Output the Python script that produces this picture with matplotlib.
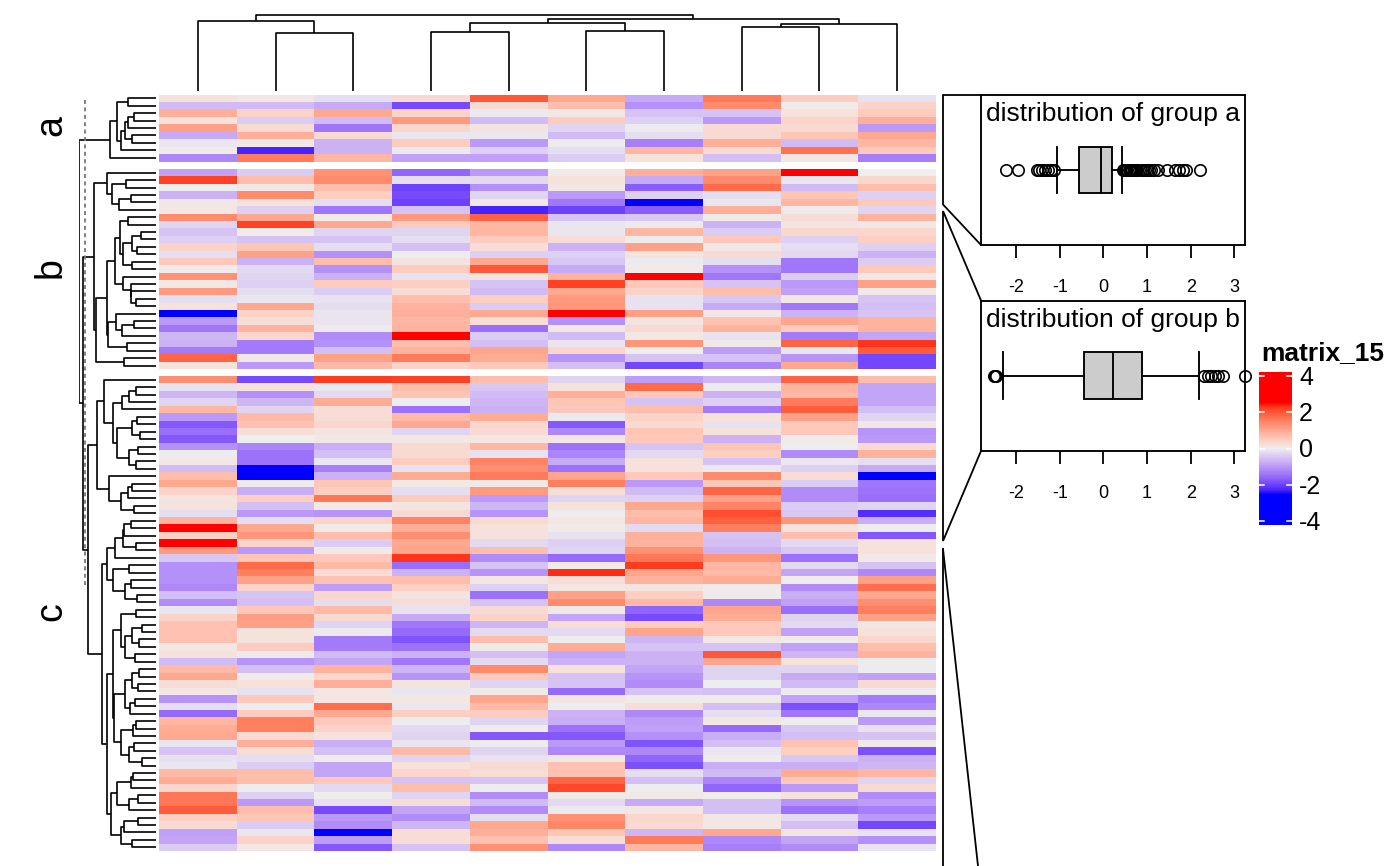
import numpy as np
import matplotlib
matplotlib.use("Agg")
import matplotlib.pyplot as plt
from matplotlib.colors import ListedColormap

plt.rcParams["font.family"] = ["Liberation Sans", "DejaVu Sans"]

W, H = 1400, 866

group_a = [
    [0.2, 0.1, -0.2, 0.3, 2.0, 1.0, -0.8, 1.6, 0.5, -0.15],
    [-0.6, -0.6, -0.8, -1.9, 0.3, 0.7, -1.1, 1.4, 0.05, 0.4],
    [0.9, 0.4, 1.0, 0.4, -0.05, 0.1, -0.5, -0.5, 0.2, 0.5],
    [0.2, -0.4, -0.6, 1.2, -0.6, 0.5, -0.35, -1.0, 0.4, 0.9],
    [1.1, 0.3, -1.4, 0.35, 0.15, -0.3, -0.05, 0.3, 0.3, -1.0],
    [-0.8, 0.9, 0.3, -0.1, -0.08, -0.6, -0.2, 0.3, 0.6, 1.0],
    [-0.1, 0.1, -0.7, 0.5, -1.0, -0.03, -1.3, 0.9, -0.6, 0.8],
    [0.05, -2.3, -0.7, -0.05, -0.35, -0.2, 0.8, 0.3, 1.7, 0.55],
    [-1.2, 1.6, 0.8, -0.9, -0.9, -0.4, 0.2, -0.55, 0.1, -1.3],
]

group_b = [
    [-0.9, -0.4, 1.3, -1.6, -1.0, 0.05, 0.9, 1.1, 2.5, 0.0],
    [2.2, 0.7, 1.4, -0.2, -0.25, 0.2, -0.8, 1.4, -0.1, 0.35],
    [0.0, 0.1, 0.7, -2.0, -1.1, 0.1, -1.7, 1.8, -0.6, 0.7],
    [-0.7, 1.4, 0.45, -1.9, -0.3, -1.0, -0.35, -0.2, 0.6, -0.35],
    [0.1, 0.2, -0.2, -2.0, 0.1, -1.4, -2.5, -0.1, 0.8, 0.55],
    [0.1, -0.35, -1.4, -0.5, -2.3, -2.0, -1.7, 0.9, 0.05, -0.3],
    [1.4, 1.0, 0.05, 1.2, 1.9, -0.5, -0.45, 0.05, 0.25, 0.85],
    [-0.3, 2.2, 1.0, 0.5, 0.8, -0.1, -0.05, -0.7, 0.15, 0.1],
    [-0.5, 0.05, -0.3, -0.3, 0.8, -0.1, 0.8, -0.4, 0.35, 0.35],
    [-0.35, -0.5, -0.5, -0.2, 0.5, 0.25, -0.03, 0.55, -0.35, 0.45],
    [0.4, 0.6, -0.2, -0.55, 0.25, -0.7, 1.1, 0.1, -0.2, -0.35],
    [-0.2, 1.1, -1.1, -0.02, -0.35, -0.35, 0.15, 0.3, -0.25, -0.7],
    [0.55, -0.7, 0.7, 0.15, 1.0, -0.45, -0.05, -0.2, -1.4, -0.4],
    [0.05, -0.25, -1.1, 0.5, 2.0, -0.8, 0.05, -1.1, -1.4, 0.55],
    [1.3, -0.3, -0.7, -0.15, 0.15, 0.85, 2.5, -1.4, -0.4, 0.1],
    [0.1, -0.35, 0.5, 0.45, -0.5, 2.2, 0.55, -0.5, -1.0, 1.1],
    [1.2, -0.2, -0.4, 0.25, -0.6, 1.0, 0.4, 0.7, -0.9, 0.08],
    [-0.2, -0.1, -0.15, 0.7, 0.45, 1.2, -0.15, -0.45, 0.1, -0.5],
    [0.2, 1.0, -0.2, 0.85, -0.4, 1.25, -0.15, -0.8, -1.4, -0.55],
    [-2.5, 0.4, -0.12, 0.9, 1.0, 2.5, 1.1, 0.1, -0.7, -0.5],
    [-1.0, 0.25, -0.12, 0.8, 0.25, -1.1, 0.15, 0.65, 1.05, 0.85],
    [-1.4, 0.85, -0.03, 0.85, -1.5, 0.1, 0.3, 0.85, 0.5, 0.85],
    [-0.65, 0.35, -1.15, 2.5, -0.4, -0.6, 0.1, -0.15, -1.35, -0.85],
    [-0.7, -1.35, -1.1, 0.7, -0.55, -0.12, 1.25, 0.07, 1.85, 2.3],
    [-1.35, -1.35, -0.55, 0.85, 1.05, 0.35, 0.02, -0.95, -0.1, 1.95],
    [1.85, 0.1, 1.1, 1.6, 0.95, -1.05, -0.5, -0.5, -1.05, -1.95],
    [0.2, -1.0, 0.75, 0.4, 0.55, -0.55, -1.95, -1.25, 1.0, -1.95],
]

group_c = [
    [1.35, -1.9, 2.25, 2.2, 0.7, -0.3, -0.95, -0.65, 1.85, 0.7],
    [-0.15, 0.2, -0.08, 0.7, -0.45, 0.2, 1.8, -0.05, 0.85, -0.85],
    [-0.65, -1.1, -0.25, 0.6, -0.6, 0.9, 0.55, -0.7, 0.75, -0.85],
    [-0.3, -0.65, 0.95, -0.02, -0.65, 0.6, -0.5, -0.35, 1.6, -0.85],
    [0.8, -0.3, 0.25, -1.45, -0.7, 0.55, 0.7, -1.35, 1.95, -0.55],
    [-1.0, 0.75, 0.25, 0.75, 0.95, -0.05, 0.4, 0.2, 1.1, -0.3],
    [-1.75, 0.65, 0.35, 1.0, 0.35, -1.75, 0.3, -0.15, 0.55, 0.12],
    [-1.5, 0.25, 0.15, -0.3, 0.3, -1.2, 0.6, 0.2, 0.55, -1.05],
    [-1.75, 0.0, 0.1, 0.12, 0.12, 0.12, 0.55, -0.7, 0.05, -1.0],
    [-1.1, -1.25, -0.75, 0.3, 0.8, -1.45, -0.5, 0.6, -0.02, 0.3],
    [-0.04, -1.45, -0.55, 0.3, -0.15, -1.25, -0.25, 0.45, -1.15, 0.85],
    [0.1, -1.45, -0.1, 0.5, 1.5, -0.8, 0.2, -0.5, -0.08, -0.2],
    [-0.6, -2.5, -1.3, -0.15, 1.35, -1.45, 0.2, -0.07, -0.35, -0.8],
    [0.7, -2.5, -0.7, 0.95, 1.6, 1.05, 0.55, 1.4, 0.25, -2.5],
    [1.0, -0.03, 0.6, 0.08, 0.08, 1.55, -1.0, 0.6, -0.4, -1.4],
    [0.4, -0.75, 0.45, -0.2, 1.2, 0.25, -0.6, 1.85, -1.15, -1.45],
    [0.15, 0.45, 1.65, 0.5, -1.0, -0.3, -0.35, 1.1, -1.15, -1.5],
    [0.18, -0.55, 0.08, 0.15, -0.65, 0.2, 1.0, 1.5, -0.4, -0.3],
    [-0.2, -1.0, -1.05, 0.3, -1.05, 0.02, 0.7, 2.1, -0.45, -2.2],
    [0.85, -0.2, 0.4, 1.5, 0.3, 0.12, 0.8, 1.9, 1.25, -0.75],
    [2.5, 1.0, 0.05, 0.9, 0.2, 0.05, -0.25, 1.55, 0.2, 0.01],
    [0.45, 1.25, 0.7, 1.35, 0.18, -0.15, 0.88, -0.5, 0.68, -1.75],
    [2.5, 0.4, -0.4, 1.0, -0.25, -0.35, 0.85, -0.55, -0.25, 0.2],
    [1.2, -1.0, 0.08, 1.05, 0.7, -0.3, 1.3, -0.7, -0.45, 0.2],
    [-0.45, 0.6, 0.55, 2.3, -1.15, -1.55, 1.65, 1.25, -1.45, 0.08],
    [-1.1, 1.8, 0.75, -1.5, -0.5, 0.05, 2.25, 0.8, -0.25, -0.5],
    [-1.1, 1.55, 0.25, -0.7, -1.05, 2.35, 1.05, 0.75, -0.85, -1.2],
    [-1.1, 1.1, 0.65, 0.7, 0.12, 0.25, 0.85, 0.95, 0.03, 1.1],
    [-1.2, 0.4, -0.95, 0.45, -0.35, 0.12, 0.15, 0.04, -1.15, 1.75],
    [-0.55, -0.5, 0.35, 0.15, -1.45, 1.1, 0.45, 0.04, -0.75, 1.0],
    [-1.15, -0.55, -0.2, 0.25, -0.5, 1.4, 0.75, -1.2, -0.9, 1.35],
    [-0.1, 0.55, 0.75, -0.15, 0.3, 0.08, -1.6, 1.05, -1.5, 1.55],
    [0.4, 1.15, 0.3, -0.8, 0.4, -0.85, -1.9, 0.95, -0.3, 1.1],
    [0.65, 1.1, -0.3, -1.4, -0.65, 0.25, 0.5, 0.55, -0.25, 0.1],
    [0.65, 0.18, -0.05, -1.55, -0.25, -0.25, 1.05, 0.55, -0.9, 0.2],
    [0.65, 0.18, -1.35, -1.8, 0.7, -0.02, -0.65, 0.12, 0.03, 0.35],
    [0.12, 0.5, -1.35, -1.45, 0.08, 0.95, -0.5, -0.5, -0.9, 0.7],
    [0.2, -0.05, -0.6, -0.7, -0.55, -0.85, -0.7, 2.0, -0.65, 0.85],
    [-0.6, -1.05, -0.85, -1.4, -0.25, -0.7, -0.7, 1.05, 0.2, -0.03],
    [0.75, -0.55, 0.85, -0.65, 1.4, 0.2, -0.85, -0.3, -0.3, -0.03],
    [1.0, 0.05, 0.35, -1.05, 0.55, -0.5, -1.05, -0.3, -0.8, -0.9],
    [0.25, 0.2, 0.9, 0.15, -0.3, -0.5, -1.15, -0.02, -0.6, 0.3],
    [0.12, -0.15, 0.12, -0.1, 0.05, -1.55, -0.5, -0.55, -0.05, -0.03],
    [-1.05, 0.55, 0.12, 0.12, 1.05, 0.15, 0.04, 0.05, -0.9, -1.35],
    [-0.2, -0.02, 1.75, -0.08, 0.75, -0.02, 0.25, -0.55, -1.85, -1.2],
    [-1.55, 0.5, 1.0, 0.45, 0.5, -0.7, -1.2, -0.2, -1.4, -0.1],
    [0.8, 1.55, 0.55, -0.02, -0.3, -0.75, -0.95, 0.12, 0.02, -1.0],
    [0.95, 1.55, 0.4, -0.25, 0.03, -1.45, -0.9, -1.55, -0.45, -0.15],
    [1.0, 0.3, 0.2, -0.3, -1.75, -1.75, -1.1, -0.75, -0.55, -0.5],
    [-0.12, 0.9, -0.75, -0.12, -0.02, -1.0, -1.8, -0.55, 0.65, 0.07],
    [-0.5, 0.25, -0.55, 0.75, -0.3, -1.2, -1.2, -0.1, 0.45, -1.85],
    [-0.15, -0.2, 0.03, -0.3, -0.15, 0.1, -1.6, 0.02, -0.45, -0.7],
    [-0.1, -0.4, -0.85, 0.2, 0.3, 0.65, -1.85, -0.75, -0.75, -0.65],
    [0.75, 0.7, -0.85, 0.35, 0.25, 0.65, -0.2, -0.6, 0.95, 0.8],
    [0.95, 0.7, 0.55, -0.5, -0.5, 1.85, -0.55, -1.25, 0.55, -0.3],
    [0.35, 0.01, -0.25, 0.7, -0.02, 2.15, -0.02, -1.6, -1.0, 0.3],
    [1.65, -0.35, 0.03, -0.3, -1.15, 0.07, 0.08, 0.03, 0.2, -1.15],
    [1.65, -1.0, -0.15, 0.25, -0.6, -0.25, -0.8, -0.55, -1.05, -0.95],
    [1.95, 0.7, -1.9, -0.85, -1.15, -0.05, 0.12, -0.55, -1.45, -1.3],
    [0.45, 0.6, -1.0, -1.15, -0.2, 1.3, 0.35, 0.1, -0.25, -1.0],
    [0.3, -0.4, -1.15, -0.65, 1.0, 1.45, 0.3, 0.1, -0.55, -1.95],
    [-0.9, -0.1, -2.5, 0.25, 0.9, 0.6, -0.65, 1.0, 0.15, -0.15],
    [-0.85, 0.4, -0.95, 0.25, 0.65, 0.25, 1.6, -1.2, -0.85, -1.1],
    [-0.4, 0.12, -1.75, -0.5, 1.3, -1.2, 0.8, -1.3, -1.15, -0.12],
]

group_names = ["a", "b", "c"]

# dendrograms as (height, left, right), ints are leaves
tree_columns = (76, (70, 0, (58, 1, 2)),
                (72, (68, (59, 3, 4), (60, 5, 6)),
                 (67.5, (64, 7, 8), 9)))

tree_a = (45.7, (38.7, (27.7, 0, 1),
                 (35, (30.7, (27.7, (21.7, 2, 3), 4), (23.7, 5, 6)), 7)), 8)

tree_b = (61.7,
          (48.7, 9, (44.3, (30, 10, 11), (36.7, (25.3, 12, 13), 14))),
          (60.3,
           (48.7,
            (41,
             (36, (27.7, 15, 16),
              (32.7, (24, (15.3, 17, 18), (18.7, 19, 20)), (24, 21, 22))),
             (32.7, 23, (25, 24, (25, 25, (20, 26, 27))))),
            (47.7, (40, 28, (34.3, (22, 29, 30), 31)), (29.3, 32, 33))),
           (31.7, 34, 35)))

tree_c = (67.7,
          (59.3,
           (51.7, 36,
            (42.7,
             (34.3, (27, (20.3, 37, 38), 39), 40),
             (39.3,
              (24.3, (19.3, 41, 42), (16, 43, 44)),
              (27, (18.3, 45, 46), (20, 47, 48))))),
           (46.7, 49,
            (35.3, (28.3, (24.3, 50, 51), 52), (22, 53, 54)))),
          (54.3,
           (49.3,
            (41, (32.7, (31.7, (25, 55, 56), 57), (20, 58, 59)), 60),
            (42.7, (26.7, 61, 62),
             (31, (25, 63, 64), (18.7, 65, 66)))),
           (49.3,
            (42.7,
             (35.3, (20, 67, 68),
              (31, (24.3, (13.7, 69, 70), (17, 71, 72)), (21, 73, 74))),
             (42,
              (31, (24.3, (17, 75, 76), (17.7, 77, 78)),
               (26, (21, 79, 80), 81)),
              (35.3, (23.3, (20, 82, 83), 84),
               (27.3, (22, 85, 86), (14.3, 87, 88))))),
            (45.3,
             (38.7, (25.3, (23.3, 89, 90), 91),
              (27.3, (18.3, 92, 93), 94)),
             (35.3, (32, (18.3, 95, 96), 97), (24.3, 98, 99))))))

tree_rows = (76.7, tree_a, (72.7, tree_b, tree_c))

# boxplot summaries
box_a = {"med": -0.05, "q1": -0.556, "q3": 0.2, "whislo": -1.07, "whishi": 0.435,
         "fliers": [-2.24, -1.97, -1.53, -1.47, -1.41, -1.35, -1.28, -1.21, -1.13,
                    0.45, 0.47, 0.5, 0.52, 0.55, 0.58, 0.6, 0.63, 0.66, 0.7, 0.74,
                    0.78, 0.85, 0.9, 0.95, 1.0, 1.05, 1.1, 1.15, 1.26, 1.45, 1.64,
                    1.74, 1.83, 1.9, 2.21]}
box_b = {"med": 0.22, "q1": -0.45, "q3": 0.893, "whislo": -2.305, "whishi": 2.18,
         "fliers": [-2.5, -2.48, -2.46, 2.31, 2.39, 2.47, 2.56, 2.63, 2.73, 3.24]}
box_ticks = [-2, -1, 0, 1, 2, 3]
legend_ticks = [-4, -2, 0, 2, 4]


def lab_to_rgb(lab):
    fy = (lab[:, 0] + 16) / 116
    fx = fy + lab[:, 1] / 500
    fz = fy - lab[:, 2] / 200
    xyz = []
    for f, white in zip([fx, fy, fz], [0.95047, 1.0, 1.08883]):
        xyz.append(white * np.where(f > 6 / 29, f ** 3, 3 * (6 / 29) ** 2 * (f - 4 / 29)))
    x, y, z = xyz
    r = 3.2406 * x - 1.5372 * y - 0.4986 * z
    g = -0.9689 * x + 1.8758 * y + 0.0415 * z
    b = 0.0557 * x - 0.2040 * y + 1.0570 * z
    rgb = np.clip(np.column_stack([r, g, b]), 0, 1)
    return np.where(rgb > 0.0031308, 1.055 * rgb ** (1 / 2.4) - 0.055, 12.92 * rgb)


def make_cmap():
    # blue, #EEEEEE, red blended in LAB space
    blue = np.array([32.30, 79.19, -107.86])
    mid = np.array([94.10, 0.0, 0.0])
    red = np.array([53.24, 80.09, 67.20])
    t = np.linspace(0, 1, 256)[:, None]
    low = blue + (mid - blue) * t
    high = mid + (red - mid) * t
    return ListedColormap(lab_to_rgb(np.vstack([low, high])))


def add_ax(fig, x0, y0, x1, y1):
    return fig.add_axes([x0 / W, 1 - y1 / H, (x1 - x0) / W, (y1 - y0) / H])


def draw_tree(ax, node, pos, vertical):
    # returns the position of the node, heights come from the tree itself
    if isinstance(node, int):
        return pos[node], 0
    h, left, right = node
    p1, h1 = draw_tree(ax, left, pos, vertical)
    p2, h2 = draw_tree(ax, right, pos, vertical)
    ps = [p1, p1, p2, p2]
    hs = [h1, h, h, h2]
    if vertical:
        ax.plot(ps, hs, color="black", lw=1.2, solid_capstyle="butt")
    else:
        ax.plot(hs, ps, color="black", lw=1.2, solid_capstyle="butt")
    return (p1 + p2) / 2, h


def draw_box(fig, stats, top, title):
    ax = add_ax(fig, 981, top, 1245, top + 150.5)
    parts = ax.bxp([stats], positions=[0], widths=0.62, orientation="horizontal",
                   patch_artist=True, capwidths=0.62,
                   boxprops={"facecolor": "#CCCCCC", "edgecolor": "black", "linewidth": 1.35},
                   medianprops={"color": "black", "linewidth": 1.35},
                   whiskerprops={"color": "black", "linewidth": 1.35},
                   capprops={"color": "black", "linewidth": 1.35},
                   flierprops={"marker": "o", "markerfacecolor": "none",
                               "markeredgecolor": "black",
                               "markersize": 8.2, "markeredgewidth": 1.2})
    for f in parts["fliers"]:
        f.set_clip_on(False)
    ax.set_xlim(-2.808, 3.245)
    ax.set_ylim(-1, 1)
    ax.set_yticks([])
    ax.set_xticks(box_ticks, labels=[str(t) for t in box_ticks])
    ax.tick_params(axis="x", length=9.4, width=1.3, pad=15, labelsize=13)
    for s in ax.spines.values():
        s.set_linewidth(1.35)
    ax.text(0.5, 0.87, title, transform=ax.transAxes, ha="center", va="center", fontsize=19)
    ax.patch.set_alpha(0)


def main():
    fig = plt.figure(figsize=(W / 100, H / 100), dpi=100)
    cmap = make_cmap()

    tops = [94.5, 169, 376]
    bottoms = [161.5, 369.3, 851]
    groups = [group_a, group_b, group_c]

    row_pos = []
    for name, data, top, bottom in zip(group_names, groups, tops, bottoms):
        ax = add_ax(fig, 159, top, 936, bottom)
        ax.pcolormesh(np.array(data), cmap=cmap, vmin=-2.5, vmax=2.5,
                      antialiased=False, rasterized=True)
        ax.invert_yaxis()
        ax.axis("off")
        n = len(data)
        step = (bottom - top) / n
        row_pos += [top + step * (i + 0.5) for i in range(n)]
        fig.text(51 / W, 1 - ((top + bottom) / 2 - 2) / H, name, rotation=90,
                 ha="center", va="center", fontsize=27)

    # row dendrogram, x is height, y is in figure pixels
    ax = add_ax(fig, 79.3, 0, 156, H)
    ax.set_xlim(76.7, 0)
    ax.set_ylim(H, 0)
    ax.axis("off")
    draw_tree(ax, tree_rows, row_pos, False)
    ax.plot([71.3, 71.3], [100, 585], color="#777777", lw=1.3, ls=(0, (2.2, 1.9)), clip_on=False)

    # column dendrogram
    ax = add_ax(fig, 159, 0, 936, 91)
    ax.set_xlim(0, 10)
    ax.set_ylim(0, 91)
    ax.axis("off")
    draw_tree(ax, tree_columns, [i + 0.5 for i in range(10)], True)

    draw_box(fig, box_a, 94.7, "distribution of group a")
    draw_box(fig, box_b, 300.5, "distribution of group b")

    # zoom links between the heatmap and the panels
    over = add_ax(fig, 0, 0, W, H)
    over.set_xlim(0, W)
    over.set_ylim(H, 0)
    over.axis("off")
    over.patch.set_alpha(0)
    links = [
        ([981, 943, 943, 981], [95, 95, 204.5, 245]),
        ([981, 943, 943, 981], [300.5, 211, 541, 451]),
        ([943, 943], [866, 549]),
        ([943, 978], [549, 866]),
    ]
    for xs, ys in links:
        over.plot(xs, ys, color="black", lw=1.3, solid_joinstyle="miter")

    # colour legend
    ax = add_ax(fig, 1259.3, 372.3, 1291.7, 525)
    grad = np.linspace(4.2, -4.2, 200)[:, None]
    ax.imshow(grad, cmap=cmap, vmin=-2.5, vmax=2.5, aspect="auto",
              extent=[0, 1, -4.2, 4.2], interpolation="nearest")
    ax.axis("off")
    for t in legend_ticks:
        ax.plot([0, 0.13], [t, t], color="white", lw=1.1)
        ax.plot([0.87, 1], [t, t], color="white", lw=1.1)
        ax.text(1.225, t - 0.09, str(t), ha="left", va="center", fontsize=18, clip_on=False)
    ax.set_xlim(0, 1)
    ax.set_ylim(-4.2, 4.2)
    fig.text(1261 / W, 1 - 353 / H, "matrix_15", ha="left", va="center",
             fontsize=19, fontweight="bold")

    fig.savefig("out.png", dpi=100)


main()
